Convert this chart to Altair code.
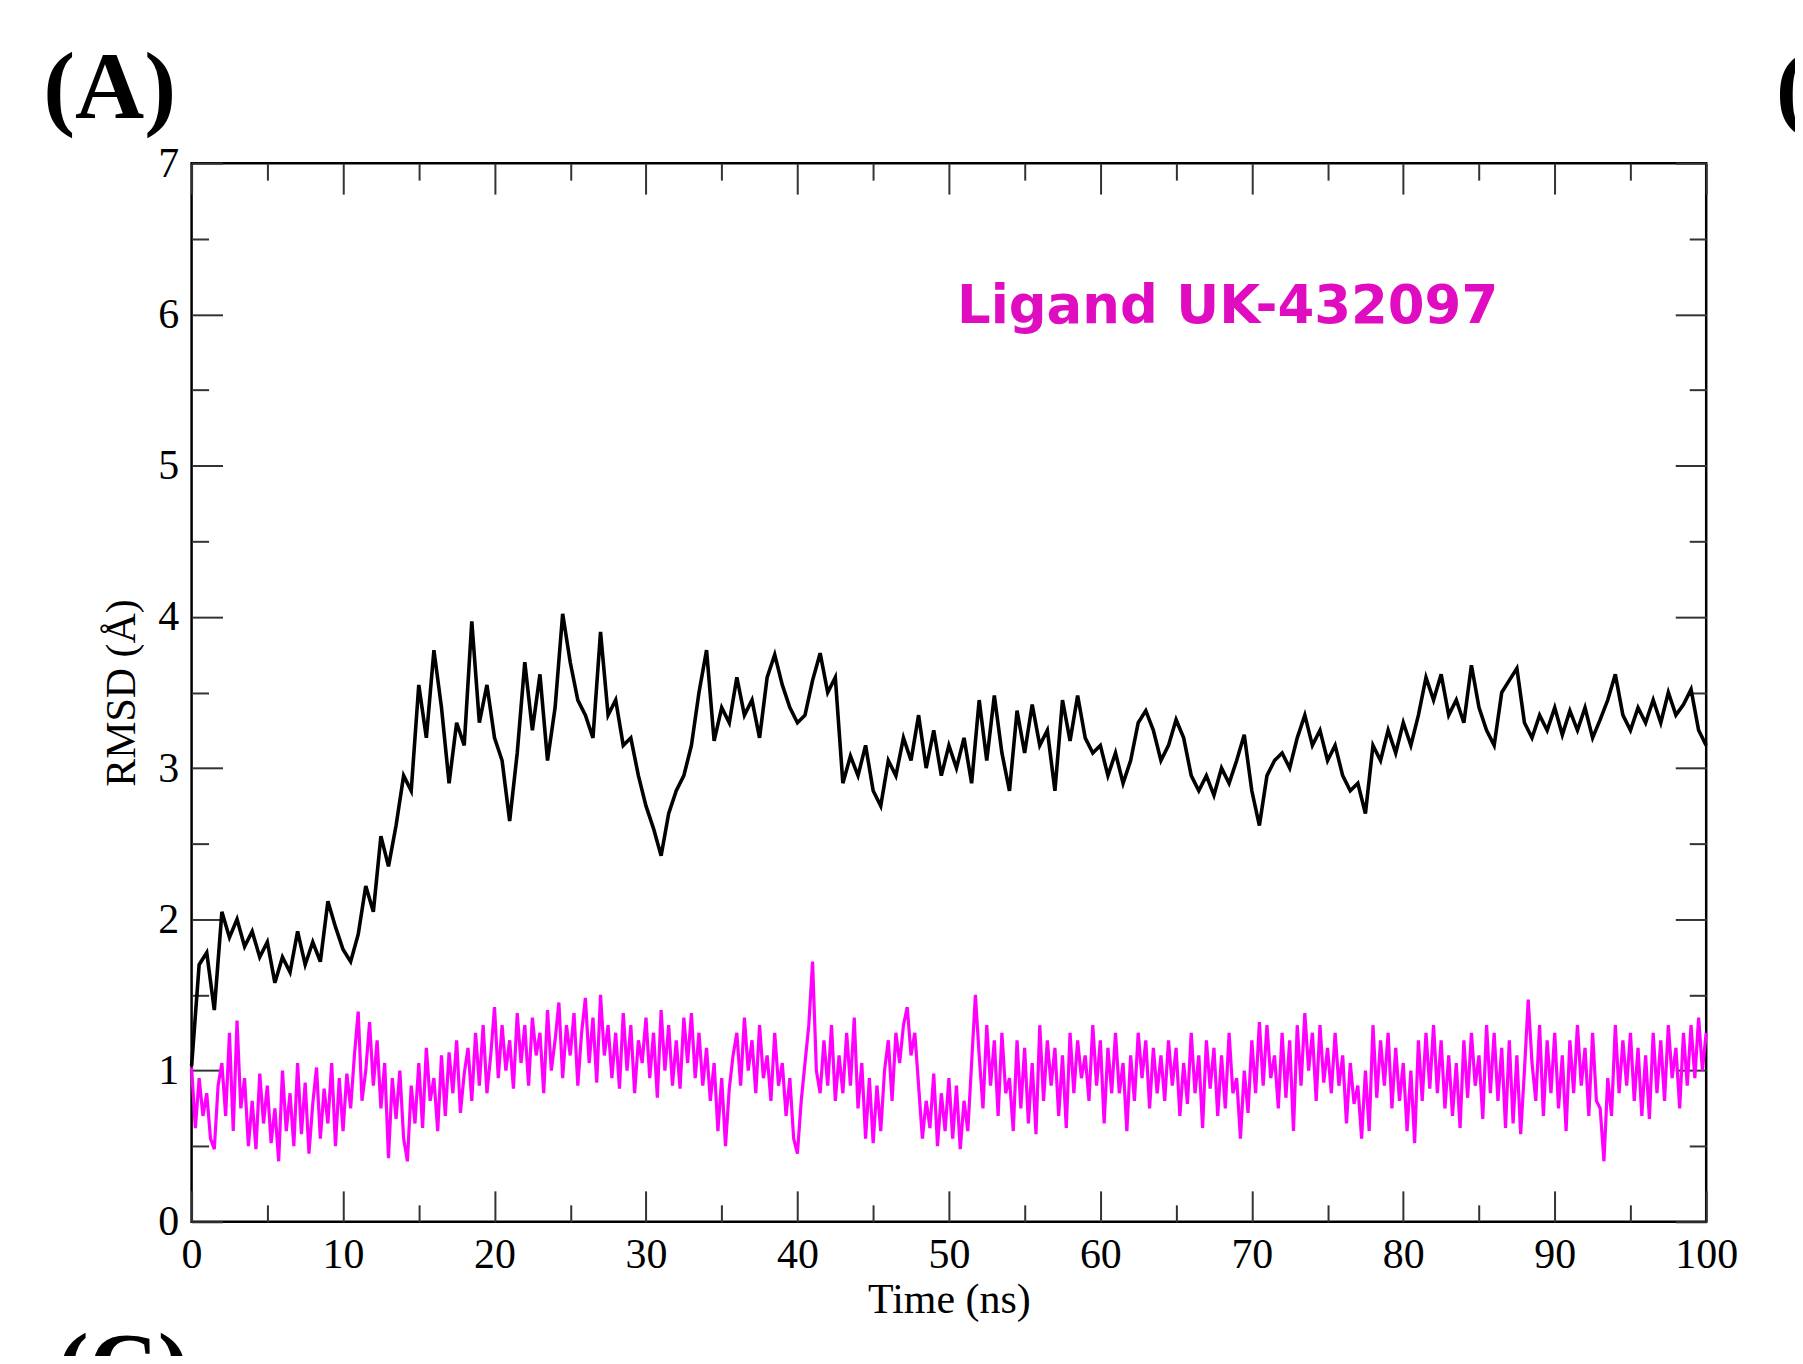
import altair as alt
import numpy as np
import pandas as pd

# ---------------- data ----------------
# Protein/complex RMSD (black), sampled every 0.5 ns from 0 to 100 ns
black_rmsd = [
    1.03, 1.70, 1.78, 1.40, 2.05, 1.88, 2.00, 1.82, 1.92, 1.75,
    1.85, 1.58, 1.75, 1.65, 1.92, 1.70, 1.85, 1.72, 2.12, 1.95,
    1.80, 1.72, 1.90, 2.22, 2.05, 2.55, 2.35, 2.62, 2.95, 2.85,
    3.55, 3.20, 3.78, 3.40, 2.90, 3.30, 3.15, 3.97, 3.30, 3.55,
    3.20, 3.05, 2.65, 3.10, 3.70, 3.25, 3.62, 3.05, 3.40, 4.02,
    3.70, 3.45, 3.35, 3.20, 3.90, 3.35, 3.45, 3.15, 3.20, 2.95,
    2.75, 2.60, 2.42, 2.70, 2.85, 2.95, 3.15, 3.50, 3.78, 3.18,
    3.40, 3.30, 3.60, 3.35, 3.45, 3.20, 3.60, 3.75, 3.55, 3.40,
    3.30, 3.35, 3.58, 3.76, 3.50, 3.60, 2.90, 3.08, 2.95, 3.15,
    2.85, 2.75, 3.05, 2.95, 3.20, 3.05, 3.35, 3.00, 3.25, 2.95,
    3.15, 3.00, 3.20, 2.90, 3.45, 3.05, 3.48, 3.10, 2.85, 3.38,
    3.10, 3.42, 3.15, 3.25, 2.85, 3.45, 3.18, 3.48, 3.20, 3.10,
    3.15, 2.95, 3.10, 2.90, 3.05, 3.30, 3.38, 3.25, 3.05, 3.15,
    3.32, 3.20, 2.95, 2.85, 2.95, 2.82, 3.00, 2.90, 3.05, 3.22,
    2.85, 2.62, 2.95, 3.05, 3.10, 3.00, 3.20, 3.35, 3.15, 3.25,
    3.05, 3.15, 2.95, 2.85, 2.90, 2.70, 3.15, 3.05, 3.25, 3.10,
    3.30, 3.15, 3.35, 3.60, 3.45, 3.62, 3.35, 3.45, 3.30, 3.68,
    3.40, 3.25, 3.15, 3.50, 3.58, 3.66, 3.30, 3.20, 3.35, 3.25,
    3.40, 3.22, 3.38, 3.25, 3.40, 3.20, 3.32, 3.45, 3.62, 3.35,
    3.25, 3.40, 3.30, 3.45, 3.30, 3.50, 3.35, 3.42, 3.52, 3.25,
    3.15,
]

# Ligand RMSD (magenta), sampled every 0.25 ns from 0 to 100 ns
magenta_rmsd = [
    1.02, 0.62, 0.95, 0.70,  0.85, 0.55, 0.48, 0.90,  1.05, 0.70, 1.25, 0.60,
    1.33, 0.75, 0.95, 0.50,  0.80, 0.48, 0.98, 0.65,  0.90, 0.52, 0.75, 0.40,
    1.00, 0.60, 0.85, 0.50,  1.05, 0.58, 0.92, 0.45,  0.78, 1.02, 0.55, 0.88,
    0.65, 1.05, 0.50, 0.95,  0.60, 0.98, 0.75, 1.10,  1.39, 0.80, 1.00, 1.32,
    0.90, 1.20, 0.75, 1.05,  0.42, 0.95, 0.68, 1.00,  0.55, 0.40, 0.90, 0.65,
    1.05, 0.62, 1.15, 0.80,  0.95, 0.60, 1.10, 0.70,  1.12, 0.85, 1.20, 0.72,
    0.98, 1.15, 0.80, 1.25,  0.90, 1.30, 0.85, 1.10,  1.42, 0.95, 1.30, 1.00,
    1.20, 0.88, 1.38, 1.05,  1.30, 0.90, 1.35, 1.10,  1.25, 0.85, 1.40, 1.00,
    1.20, 1.45, 0.95, 1.30,  1.10, 1.38, 0.90, 1.25,  1.48, 1.05, 1.35, 0.92,
    1.50, 1.10, 1.30, 0.95,  1.25, 0.88, 1.38, 1.00,  1.30, 0.85, 1.20, 1.05,
    1.35, 0.95, 1.25, 0.82,  1.40, 1.00, 1.30, 0.90,  1.20, 0.88, 1.35, 1.05,
    1.38, 0.95, 1.25, 0.90,  1.15, 0.80, 1.05, 0.60,  0.95, 0.50, 0.88, 1.10,
    1.25, 0.90, 1.35, 1.00,  1.20, 0.85, 1.30, 0.95,  1.10, 0.80, 1.25, 0.90,
    1.05, 0.70, 0.95, 0.55,  0.45, 0.80, 1.05, 1.30,  1.72, 1.00, 0.85, 1.20,
    0.90, 1.30, 0.80, 1.10,  0.85, 1.25, 0.90, 1.35,  0.75, 1.05, 0.55, 0.95,
    0.52, 0.90, 0.60, 1.00,  1.20, 0.80, 1.25, 1.05,  1.30, 1.42, 1.10, 1.25,
    0.90, 0.55, 0.80, 0.62,  0.98, 0.50, 0.85, 0.60,  0.95, 0.55, 0.90, 0.48,
    0.80, 0.60, 1.05, 1.50,  1.10, 0.75, 1.30, 0.90,  1.20, 0.70, 1.25, 0.85,
    0.95, 0.60, 1.20, 0.75,  1.15, 0.65, 1.05, 0.58,  1.30, 0.80, 1.20, 0.90,
    1.15, 0.70, 1.10, 0.62,  1.25, 0.85, 1.20, 0.95,  1.10, 0.80, 1.30, 0.90,
    1.20, 0.65, 1.15, 0.85,  1.25, 0.85, 1.05, 0.60,  1.10, 0.80, 1.25, 0.95,
    1.20, 0.75, 1.15, 0.85,  1.10, 0.80, 1.20, 0.90,  1.15, 0.70, 1.05, 0.78,
    1.25, 0.85, 1.10, 0.62,  1.20, 0.88, 1.15, 0.70,  1.10, 0.75, 1.25, 0.85,
    0.95, 0.55, 1.00, 0.72,  1.20, 0.85, 1.32, 0.90,  1.30, 0.95, 1.10, 0.75,
    1.25, 0.82, 1.20, 0.60,  1.30, 0.90, 1.38, 1.00,  1.25, 0.80, 1.30, 0.92,
    1.15, 0.85, 1.25, 0.90,  1.10, 0.65, 1.05, 0.78,  0.90, 0.55, 1.00, 0.60,
    1.30, 0.82, 1.20, 0.90,  1.25, 0.75, 1.15, 0.80,  1.05, 0.60, 1.00, 0.52,
    1.20, 0.80, 1.25, 0.88,  1.30, 0.85, 1.20, 0.75,  1.10, 0.70, 1.05, 0.62,
    1.20, 0.82, 1.25, 0.90,  1.10, 0.68, 1.30, 0.85,  1.25, 0.80, 1.15, 0.62,
    1.20, 0.65, 1.10, 0.58,  1.00, 1.47, 1.05, 0.80,  1.30, 0.70, 1.20, 0.85,
    1.25, 0.75, 1.10, 0.60,  1.20, 0.85, 1.30, 0.90,  1.15, 0.70, 1.25, 0.80,
    0.75, 0.40, 0.95, 0.70,  1.30, 0.85, 1.20, 0.90,  1.25, 0.80, 1.15, 0.70,
    1.10, 0.68, 1.25, 0.85,  1.20, 0.80, 1.30, 0.95,  1.15, 0.75, 1.25, 0.90,
    1.30, 0.95, 1.35, 1.00,
    1.25,
]

x_major = [0, 10, 20, 30, 40, 50, 60, 70, 80, 90, 100]
x_minor = [5, 15, 25, 35, 45, 55, 65, 75, 85, 95]
y_major = [0, 1, 2, 3, 4, 5, 6, 7]
y_minor = [0.5, 1.5, 2.5, 3.5, 4.5, 5.5, 6.5]

label_text = ["Ligand UK-432097"]
label_t = [68.4]
label_v = [5.94]

panel_text = ["(A)", "(B)"]
panel_t = [-9.8, 104.6]
panel_v = [7.296, 7.296]
panelc_text = ["(C)"]
panelc_t = [-8.9]
panelc_v = [-1.17]

# ---------------- tables ----------------
df_black = pd.DataFrame({"t": np.arange(len(black_rmsd)) * 0.5, "v": black_rmsd})
df_mag = pd.DataFrame({"t": np.arange(len(magenta_rmsd)) * 0.25, "v": magenta_rmsd})
df_label = pd.DataFrame({"t": label_t, "v": label_v, "label": label_text})
df_panel = pd.DataFrame({"t": panel_t, "v": panel_v, "label": panel_text})
df_panelc = pd.DataFrame({"t": panelc_t, "v": panelc_v, "label": panelc_text})

SERIF = "Liberation Serif"
xs = alt.Scale(domain=[0, 100], nice=False, zero=False)
ys = alt.Scale(domain=[0, 7], nice=False, zero=False)


def tick_axis(orient, values, size):
    return alt.Axis(orient=orient, values=values, labels=False, domain=False,
                    grid=False, ticks=True, tickSize=size, tickWidth=2,
                    tickColor="#333333", offset=-size, title=None)


x_main = alt.Axis(orient="bottom", values=x_major, ticks=False, tickSize=0,
                  domain=False, grid=False, labelFont=SERIF, labelFontSize=42,
                  labelColor="#000000", labelPadding=13, labelFlush=False,
                  labelOverlap=False, title="Time (ns)", titleFont=SERIF,
                  titleFontSize=42, titleFontWeight="normal", titleColor="#000000",
                  titleBaseline="alphabetic", titleY=91)
y_main = alt.Axis(orient="left", values=y_major, ticks=False, tickSize=0,
                  domain=False, grid=False, labelFont=SERIF, labelFontSize=42,
                  labelColor="#000000", labelPadding=13, labelFlush=False,
                  labelOverlap=False, title="RMSD (Å)", titleFont=SERIF,
                  titleFontSize=42, titleFontWeight="normal", titleColor="#000000",
                  titleAngle=270, titleX=-70, titleY=530.5,
                  titleBaseline="middle", titleAlign="center")

black = alt.Chart(df_black).mark_line(color="#000000", strokeWidth=3.6).encode(
    x=alt.X("t:Q", scale=xs, axis=x_main),
    y=alt.Y("v:Q", scale=ys, axis=y_main),
)
mag = alt.Chart(df_mag).mark_line(color="#ff00ff", strokeWidth=3.2).encode(
    x=alt.X("t:Q", scale=xs, axis=tick_axis("bottom", x_major, 31)),
    y=alt.Y("v:Q", scale=ys, axis=tick_axis("left", y_major, 31)),
)
label = alt.Chart(df_label).mark_text(
    font="DejaVu Sans", fontWeight="bold", fontSize=53, color="#e00cc0",
    align="center", baseline="alphabetic").encode(
    x=alt.X("t:Q", scale=xs, axis=tick_axis("bottom", x_minor, 17)),
    y=alt.Y("v:Q", scale=ys, axis=tick_axis("left", y_minor, 17)),
    text="label:N",
)
panels = alt.Chart(df_panel).mark_text(
    font=SERIF, fontWeight="bold", fontSize=96, color="#000000",
    align="left", baseline="alphabetic").encode(
    x=alt.X("t:Q", scale=xs, axis=tick_axis("top", x_major, 31)),
    y=alt.Y("v:Q", scale=ys, axis=tick_axis("right", y_major, 31)),
    text="label:N",
)
panelc = alt.Chart(df_panelc).mark_text(
    font=SERIF, fontWeight="bold", fontSize=96, color="#000000",
    align="left", baseline="alphabetic").encode(
    x=alt.X("t:Q", scale=xs, axis=tick_axis("top", x_minor, 17)),
    y=alt.Y("v:Q", scale=ys, axis=tick_axis("right", y_minor, 17)),
    text="label:N",
)

chart = alt.layer(black, mag, label, panels, panelc).resolve_axis(
    x="independent", y="independent"
).properties(
    width=1518, height=1061,
    autosize=alt.AutoSizeParams(type="none"),
    padding={"left": 184, "top": 154, "right": 89, "bottom": 133},
    background="#ffffff",
).configure_view(stroke="#000000", strokeWidth=2.5)

chart.save("out.html", embed_options={"renderer": "svg", "actions": False})
